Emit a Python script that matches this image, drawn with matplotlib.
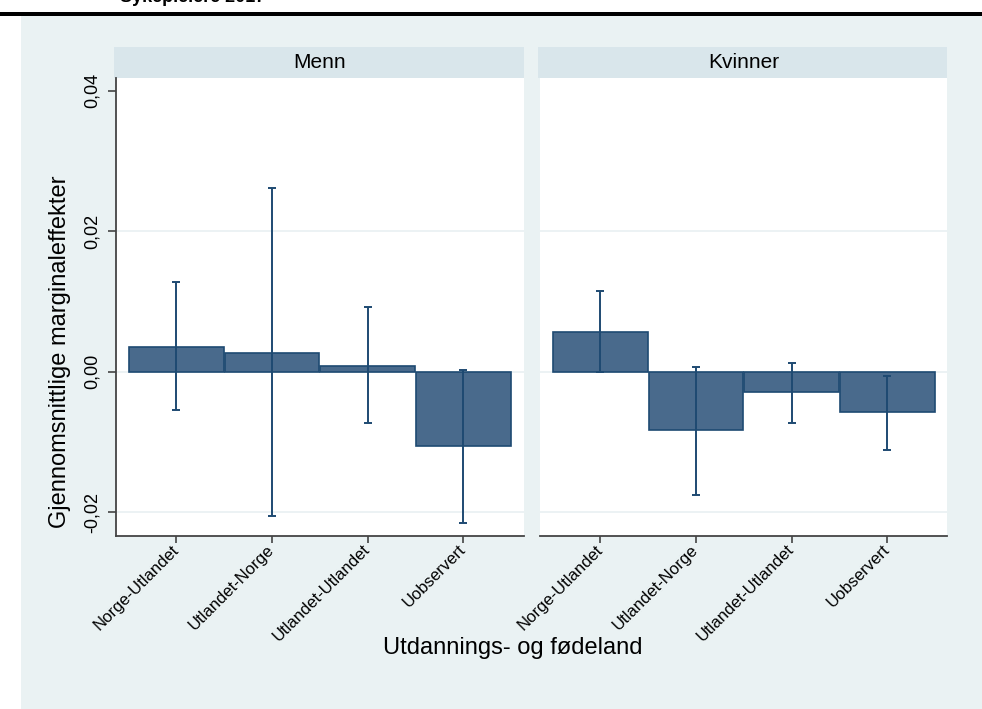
import matplotlib
matplotlib.use("Agg")
from matplotlib import pyplot as plt
from matplotlib.patches import Rectangle
import numpy as np

plt.rcParams['font.family'] = ['Liberation Sans', 'DejaVu Sans']

categories = ["Norge-Utlandet", "Utlandet-Norge", "Utlandet-Utlandet", "Uobservert"]
panels = ["Menn", "Kvinner"]

menn_vals = [0.0035, 0.0027, 0.0008, -0.0106]
menn_lo = [-0.0055, -0.0206, -0.0073, -0.0215]
menn_hi = [0.0127, 0.0262, 0.0092, 0.0002]

kvinner_vals = [0.0056, -0.0083, -0.0029, -0.0057]
kvinner_lo = [0.0000, -0.0175, -0.0073, -0.0111]
kvinner_hi = [0.0115, 0.0006, 0.0012, -0.0006]

yticks = [-0.02, 0.0, 0.02, 0.04]
ytick_labels = ["-0,02", "0,00", "0,02", "0,04"]

bg = '#eaf2f3'
strip_col = '#d9e6eb'
bar_col = '#496a8c'
edge_col = '#1e4a72'
W, H = 982, 709

fig = plt.figure(figsize=(W / 100, H / 100), dpi=100, facecolor='white')

# light stata background + black rule at top
fig.patches.append(Rectangle((21 / W, 0), 1 - 21 / W, 1 - 16 / H, transform=fig.transFigure,
                             facecolor=bg, edgecolor='none', zorder=-2))
fig.patches.append(Rectangle((0, 1 - 15.5 / H), 1, 3.5 / H, transform=fig.transFigure,
                             facecolor='black', edgecolor='none', zorder=-1))
fig.text(120 / W, 1 + 3 / H, "Sykepleiere 2017", fontsize=13, fontweight='bold', va='center', ha='left')

x = np.arange(1, len(categories) + 1)
data = [(menn_vals, menn_lo, menn_hi), (kvinner_vals, kvinner_lo, kvinner_hi)]
lefts = [116, 540]
ax_w = 407.5
ax_bottom, ax_top = 536, 78

for i, (name, (vals, lo, hi)) in enumerate(zip(panels, data)):
    ax = fig.add_axes([lefts[i] / W, 1 - ax_bottom / H, ax_w / W, (ax_bottom - ax_top) / H])
    ax.set_zorder(5)
    ax.set_facecolor('white')
    for yt in yticks[:3]:
        ax.axhline(yt, color='#e9f0f2', lw=1.2, zorder=0)
    ax.bar(x, vals, width=0.99, color=bar_col, edgecolor=edge_col, linewidth=1.2, zorder=2)
    vals_a = np.array(vals)
    err = [vals_a - np.array(lo), np.array(hi) - vals_a]
    ax.errorbar(x, vals, yerr=err, fmt='none', ecolor=edge_col, elinewidth=1.4,
                capsize=3, capthick=1.4, zorder=3)
    ax.set_xlim(0.37, 4.63)
    ax.set_ylim(-0.0234, 0.0418)
    ax.set_xticks(x)
    ax.set_xticklabels(categories, rotation=45, ha='right', va='center',
                       rotation_mode='anchor', fontsize=12)
    ax.tick_params(axis='x', length=5, width=1.2, color='#444444', pad=3)
    for s in ['top', 'right']:
        ax.spines[s].set_visible(False)
    ax.spines['bottom'].set_color('#444444')
    ax.spines['bottom'].set_linewidth(1.3)
    if i == 0:
        ax.set_yticks(yticks)
        ax.set_yticklabels(ytick_labels, rotation=90, va='center', fontsize=13)
        ax.tick_params(axis='y', length=6, width=1.2, color='#444444', pad=5)
        ax.spines['left'].set_color('#444444')
        ax.spines['left'].set_linewidth(1.3)
    else:
        ax.set_yticks([])
        ax.spines['left'].set_visible(False)
    # facet strip
    fig.patches.append(Rectangle((lefts[i] / W - 2 / W, 1 - ax_top / H), (ax_w + 2) / W, 31 / H,
                                 transform=fig.transFigure, facecolor=strip_col,
                                 edgecolor='none', zorder=1))
    fig.text((lefts[i] + ax_w / 2) / W, 1 - (ax_top - 15.5) / H, name, fontsize=15,
             ha='center', va='center')

fig.text(60 / W, 1 - 352 / H, "Gjennomsnittlige marginaleffekter", rotation=90,
         fontsize=17, ha='center', va='center')
fig.text(513 / W, 1 - 648 / H, "Utdannings- og fødeland", fontsize=17, ha='center', va='center')

fig.savefig("out.png", dpi=100, facecolor=fig.get_facecolor())
